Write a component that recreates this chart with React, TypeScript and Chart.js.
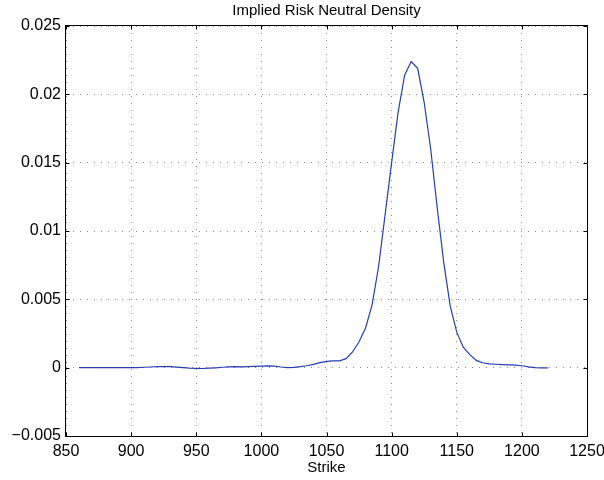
import React, { useEffect, useRef } from "react";
import { Chart, registerables } from "chart.js";

Chart.register(...registerables);

const FONT = '"Liberation Sans", Arial, Helvetica, sans-serif';

const chartTitle = "Implied Risk Neutral Density";
const xAxisLabel = "Strike";

const strikes = [
  860, 865, 870, 875, 880, 885, 890, 895, 900, 905, 910, 915, 920, 925, 930, 935,
  940, 945, 950, 955, 960, 965, 970, 975, 980, 985, 990, 995, 1000, 1005, 1010,
  1015, 1020, 1025, 1030, 1035, 1040, 1045, 1050, 1055, 1060, 1065, 1070, 1075,
  1080, 1085, 1090, 1095, 1100, 1105, 1110, 1115, 1120, 1125, 1130, 1135, 1140,
  1145, 1150, 1155, 1160, 1165, 1170, 1175, 1180, 1185, 1190, 1195, 1200, 1205,
  1210, 1215, 1220,
];

const density = [
  0, 0, 0, 0, 0, 0, 0, 0, 0, 0.00001, 0.00003, 0.00005, 0.00007, 0.00008, 0.00007,
  0.00004, 0.00001, -0.00003, -0.00005, -0.00006, -0.00004, -0.00001, 0.00003,
  0.00006, 0.00007, 0.00006, 0.00008, 0.0001, 0.00012, 0.00013, 0.00011, 0.00005,
  0.00001, 0.00002, 0.00007, 0.00014, 0.00024, 0.00037, 0.00046, 0.0005, 0.0005,
  0.00066, 0.00115, 0.0019, 0.0029, 0.0046, 0.0074, 0.0112, 0.015, 0.0187, 0.0214,
  0.0224, 0.0219, 0.0194, 0.016, 0.0117, 0.0077, 0.0045, 0.0026, 0.0015, 0.00095,
  0.00053, 0.00036, 0.00028, 0.00025, 0.00022, 0.0002, 0.00018, 0.00014, 0.00006,
  0.00001, -0.00002, -0.00002,
];

const xTicks = [850, 900, 950, 1000, 1050, 1100, 1150, 1200, 1250];
const xTickLabels = ["850", "900", "950", "1000", "1050", "1100", "1150", "1200", "1250"];
const yTicks = [-0.005, 0, 0.005, 0.01, 0.015, 0.02, 0.025];
const yTickLabels = ["\u22120.005", "0", "0.005", "0.01", "0.015", "0.02", "0.025"];

const matlabFrame = {
  id: "matlabFrame",
  afterDraw(chart: any) {
    const { ctx, chartArea } = chart;
    const { left, right, top, bottom } = chartArea;
    const xs = chart.scales.x;
    const ys = chart.scales.y;
    ctx.save();
    ctx.strokeStyle = "#000";
    ctx.lineWidth = 1;
    ctx.setLineDash([]);
    const L = Math.round(left) - 0.5;
    const R = Math.round(right) + 0.5;
    const T = Math.round(top) - 0.5;
    const B = Math.round(bottom) + 0.5;
    ctx.strokeRect(L, T, R - L, B - T);
    const tl = 4;
    ctx.beginPath();
    xTicks.forEach((v) => {
      const px = Math.round(xs.getPixelForValue(v)) + 0.5;
      ctx.moveTo(px, B);
      ctx.lineTo(px, B - tl);
      ctx.moveTo(px, T);
      ctx.lineTo(px, T + tl);
    });
    yTicks.forEach((v) => {
      const py = Math.round(ys.getPixelForValue(v)) + 0.5;
      ctx.moveTo(L, py);
      ctx.lineTo(L + tl, py);
      ctx.moveTo(R, py);
      ctx.lineTo(R - tl, py);
    });
    ctx.stroke();
    ctx.fillStyle = "#000";
    ctx.font = `15px ${FONT}`;
    ctx.textAlign = "center";
    ctx.textBaseline = "middle";
    ctx.fillText(chartTitle, (left + right) / 2, 11);
    ctx.restore();
  },
};

export default function App() {
  const canvasRef = useRef<HTMLCanvasElement | null>(null);

  useEffect(() => {
    document.body.style.margin = "0";
    const canvas = canvasRef.current;
    if (!canvas) return;
    const points = strikes.map((x, i) => ({ x, y: density[i] }));
    const chart = new Chart(canvas, {
      type: "line",
      data: {
        datasets: [
          {
            data: points,
            borderColor: "rgb(38, 62, 178)",
            borderWidth: 1.2,
            pointRadius: 0,
            tension: 0,
            fill: false,
          },
        ],
      },
      options: {
        animation: false,
        responsive: false,
        devicePixelRatio: 1,
        layout: { padding: { top: 26, right: 17, left: 0, bottom: 0 } },
        plugins: {
          legend: { display: false },
          title: { display: false },
          tooltip: { enabled: false },
        },
        scales: {
          x: {
            type: "linear",
            min: 850,
            max: 1250,
            afterBuildTicks: (s: any) => {
              s.ticks = xTicks.map((v) => ({ value: v }));
            },
            ticks: {
              autoSkip: false,
              maxRotation: 0,
              padding: 6,
              color: "#000",
              font: { family: FONT, size: 16 },
              callback: (v: any) => {
                const i = xTicks.indexOf(Number(v));
                return i >= 0 ? xTickLabels[i] : "";
              },
            },
            grid: { color: "#8a8a8a", lineWidth: 1, drawTicks: false },
            border: { display: false, dash: [1, 6] },
            title: {
              display: true,
              text: xAxisLabel,
              color: "#000",
              font: { family: FONT, size: 15 },
              padding: { top: 0, bottom: 3 },
            },
            afterFit: (s: any) => {
              s.height = 44;
              s.paddingLeft = 0;
              s.paddingRight = 0;
            },
          },
          y: {
            type: "linear",
            min: -0.005,
            max: 0.025,
            afterBuildTicks: (s: any) => {
              s.ticks = yTicks.map((v) => ({ value: v }));
            },
            ticks: {
              autoSkip: false,
              padding: 5,
              color: "#000",
              font: { family: FONT, size: 16 },
              callback: (v: any) => {
                const i = yTicks.findIndex((t) => Math.abs(t - Number(v)) < 1e-9);
                return i >= 0 ? yTickLabels[i] : "";
              },
            },
            grid: { color: "#8a8a8a", lineWidth: 1, drawTicks: false },
            border: { display: false, dash: [1, 6] },
            afterFit: (s: any) => {
              s.width = 66;
              s.paddingTop = 0;
              s.paddingBottom = 0;
            },
          },
        },
      },
      plugins: [matlabFrame],
    });
    return () => chart.destroy();
  }, []);

  return (
    <div style={{ width: 604, height: 480, position: "relative", background: "#fff" }}>
      <canvas ref={canvasRef} width={604} height={480} />
    </div>
  );
}
